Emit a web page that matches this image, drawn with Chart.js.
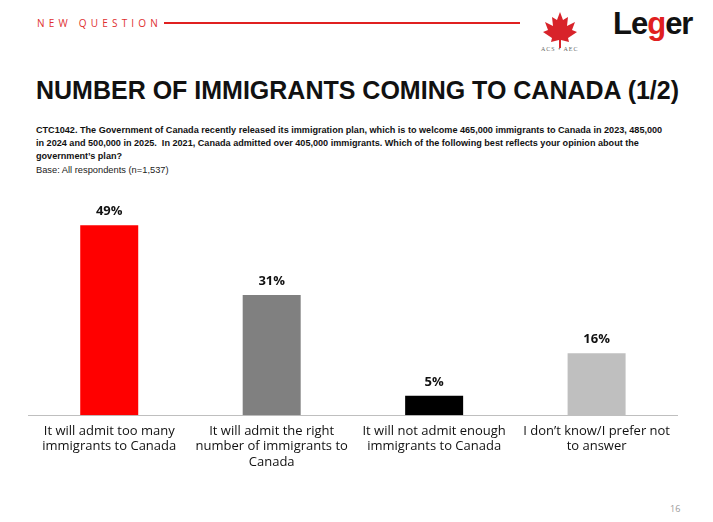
<!DOCTYPE html>
<html><head><meta charset="utf-8">
<script src="https://cdn.jsdelivr.net/npm/chart.js@4/dist/chart.umd.min.js"></script>
<style>
body{margin:0;width:713px;height:522px;background:#fff;position:relative;overflow:hidden;font-family:"Liberation Sans",sans-serif}
.nq{position:absolute;left:37px;top:16px;font-size:10px;letter-spacing:4.2px;color:#e03030;font-family:"Open Sans",sans-serif}
.rl{position:absolute;left:164px;top:22px;width:356px;height:2px;background:#e02020}
.leaf{position:absolute;left:540px;top:10px;width:40px;height:40px}
.logo{position:absolute;left:613px;top:6px;font:bold 31px "Liberation Sans",sans-serif;color:#111;letter-spacing:-1px}
.logo span{color:#e02020}
.aec{position:absolute;left:541px;top:46px;font:6px serif;color:#666;letter-spacing:1px}
h1{position:absolute;left:36px;top:76px;margin:0;font:bold 25px "Liberation Sans",sans-serif;color:#111;white-space:nowrap}
.q{position:absolute;left:36px;top:124px;white-space:nowrap;font:bold 9.1px/13px "Liberation Sans",sans-serif;color:#111}
.base{position:absolute;left:36px;top:165px;font:9.3px "Liberation Sans",sans-serif;color:#222}
.pg{position:absolute;left:670px;top:502px;font:9px "Open Sans",sans-serif;color:#999}
#wrap{position:absolute;left:28px;top:175px;width:650px;height:303px}
</style></head><body>
<div class="nq">NEW QUESTION</div><div class="rl"></div>
<svg class="leaf" viewBox="0 0 40 40"><path d="M20 2 L23 10 L28 7 L27 16 L35 12 L32 20 L37 22 L28 28 L29 32 L21 30 L21 38 L19 38 L19 30 L11 32 L12 28 L3 22 L8 20 L5 12 L13 16 L12 7 L17 10 Z" fill="#d8232a"/></svg>
<div class="aec">ACS • AEC</div>
<div class="logo">Le<span>g</span>er</div>
<h1>NUMBER OF IMMIGRANTS COMING TO CANADA (1/2)</h1>
<div class="q">CTC1042. The Government of Canada recently released its immigration plan, which is to welcome 465,000 immigrants to Canada in 2023, 485,000<br>in 2024 and 500,000 in 2025.&nbsp; In 2021, Canada admitted over 405,000 immigrants. Which of the following best reflects your opinion about the<br>government’s plan?</div>
<div class="base">Base: All respondents (n=1,537)</div>
<div class="pg">16</div>
<div id="wrap"><canvas id="c"></canvas></div>
<script>
const categories = [
  ['It will admit too many', 'immigrants to Canada'],
  ['It will admit the right', 'number of immigrants to', 'Canada'],
  ['It will not admit enough', 'immigrants to Canada'],
  ['I don\u2019t know/I prefer not', 'to answer']
];
const values = [49, 31, 5, 16];
const barColors = ['#ff0000', '#808080', '#000000', '#bfbfbf'];

const valueLabels = {
  id: 'valueLabels',
  afterDatasetsDraw(chart) {
    const ctx = chart.ctx;
    ctx.save();
    ctx.font = 'bold 13px "Open Sans", sans-serif';
    ctx.fillStyle = '#111';
    ctx.textAlign = 'center';
    chart.getDatasetMeta(0).data.forEach((bar, i) => {
      ctx.fillText(values[i] + '%', bar.x, bar.y - 10);
    });
    ctx.restore();
  }
};

new Chart(document.getElementById('c'), {
  type: 'bar',
  data: {
    labels: categories,
    datasets: [{ data: values, backgroundColor: barColors, barPercentage: 0.357, categoryPercentage: 1 }]
  },
  options: {
    responsive: true, maintainAspectRatio: false, animation: false,
    layout: { padding: 0 },
    plugins: { legend: { display: false }, tooltip: { enabled: false } },
    scales: {
      x: {
        grid: { display: false, drawTicks: false },
        border: { color: '#bfbfbf' },
        ticks: { color: '#111', font: { size: 13, family: '"Open Sans", sans-serif' }, padding: 8, maxRotation: 0, autoSkip: false }
      },
      y: { display: false, min: 0, max: 62 }
    }
  },
  plugins: [valueLabels]
});
</script>
</body></html>
